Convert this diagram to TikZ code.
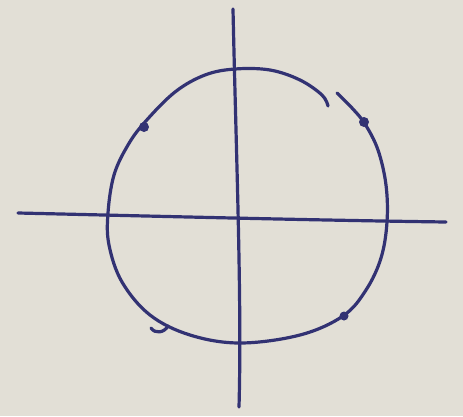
\documentclass[tikz,border=0pt]{standalone}
\definecolor{paper}{RGB}{226,223,214}
\definecolor{ink}{RGB}{50,50,115}
\begin{document}
\begin{tikzpicture}[x=1pt,y=-1pt,
  pen/.style={draw=ink,line width=3.2pt,line cap=round,line join=round},
  blob/.style={fill=ink,circle,inner sep=0pt,minimum size=10pt}]
\fill[paper] (0,0) rectangle (463,416);
\useasboundingbox (0,0) rectangle (463,416);
% axes
\coordinate (vt) at (233,9);
\coordinate (vb) at (239,407);
\coordinate (hl) at (18,213);
\coordinate (hr) at (446,222);
\draw[pen] (vt) .. controls (236,150) and (242,300) .. (vb);
\draw[pen] (hl) .. controls (150,216) and (300,220) .. (hr);
% circle (hand drawn)
\draw[pen] plot[smooth,tension=0.6] coordinates {
  (337,93) (352,108) (365,124) (378,150) (386,185) (387,222) (381,258)
  (366,290) (343,316) (300,335) (240,343) (190,335) (150,315)
  (122,282) (109,245) (108,213) (114,175) (128,145) (145,122)
  (175,92) (205,75) (235,69) (270,70) (300,80) (322,95) (328,106)};
% marks
\node[blob] (d1) at (144,127) {};
\node[blob] (d2) at (364,122) {};
\node[blob,minimum size=9pt] (d3) at (344,316) {};
\draw[pen] (151,328) .. controls (155,334) and (164,333) .. (168,326);
\end{tikzpicture}
\end{document}
